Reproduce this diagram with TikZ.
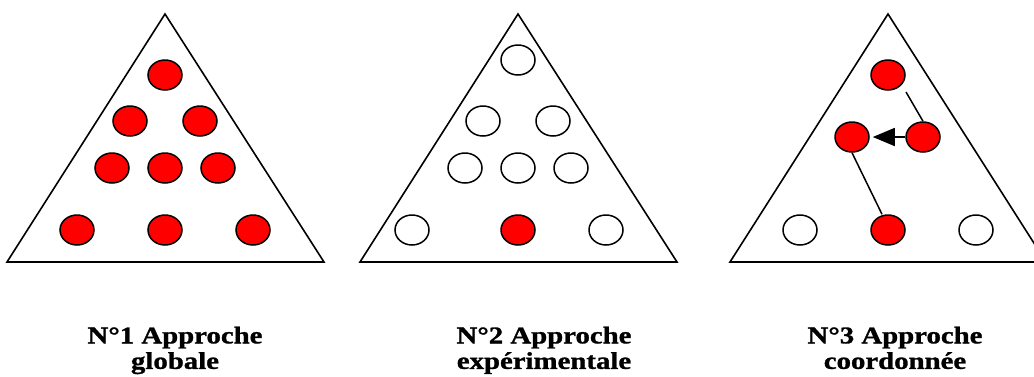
\documentclass[tikz,border=0pt]{standalone}
\usepackage{fontspec}
\newfontfamily\labfont[FakeStretch=1.2,FakeBold=1.2]{Liberation Serif}
\usetikzlibrary{shapes.geometric,arrows.meta}
\begin{document}
\begin{tikzpicture}[x=1pt,y=-1pt,
  tri/.style={draw=black,line width=1.6pt,line join=miter},
  dot/.style={ellipse,draw=black,line width=1.5pt,minimum width=34pt,minimum height=30pt,inner sep=0pt},
  red dot/.style={dot,fill=red},
  white dot/.style={dot,fill=white},
  link/.style={draw=black,line width=1.5pt},
  lab/.style={anchor=north,align=center,font=\labfont\bfseries\fontsize{24}{25.5}\selectfont,inner sep=0pt}]
\useasboundingbox (0,0) rectangle (1034,376);
\clip (0,0) rectangle (1034,376);
% Triangle 1
\draw[tri] (165,14) -- (324,262) -- (7,262) -- cycle;
\node[red dot] (a1) at (165,75) {};
\node[red dot] (a2) at (130,121) {};
\node[red dot] (a3) at (200,121) {};
\node[red dot] (a4) at (112,168) {};
\node[red dot] (a5) at (165,168) {};
\node[red dot] (a6) at (218,168) {};
\node[red dot] (a7) at (77,230) {};
\node[red dot] (a8) at (165,230) {};
\node[red dot] (a9) at (253,230) {};
% Triangle 2
\draw[tri] (518,14) -- (677,262) -- (360,262) -- cycle;
\node[white dot] (b1) at (518,60) {};
\node[white dot] (b2) at (483,121) {};
\node[white dot] (b3) at (553,121) {};
\node[white dot] (b4) at (465,168) {};
\node[white dot] (b5) at (518,168) {};
\node[white dot] (b6) at (571,168) {};
\node[white dot] (b7) at (412,230) {};
\node[red dot] (b8) at (518,230) {};
\node[white dot] (b9) at (606,230) {};
% Triangle 3
\draw[tri] (888,14) -- (1046,262) -- (730,262) -- cycle;
\node[red dot] (c1) at (888,75) {};
\node[red dot] (c2) at (852,137) {};
\node[red dot] (c3) at (923,137) {};
\node[white dot] (c4) at (800,230) {};
\node[red dot] (c5) at (888,230) {};
\node[white dot] (c6) at (976,230) {};
\draw[link] ([xshift=18pt,yshift=-17pt]c1.center) -- (c3.north);
\draw[link,-{Triangle[length=22pt,width=18pt]}] (c3.west) -- ([xshift=3pt]c2.east);
\draw[link] (c2.south) -- ([xshift=-6pt]c5.north);
% Labels
\node[lab] (l1) at (175,326.5) {N°1 Approche\\globale};
\node[lab] (l2) at (544,326.5) {N°2 Approche\\expérimentale};
\node[lab] (l3) at (895,326.5) {N°3 Approche\\coordonnée};
\end{tikzpicture}
\end{document}
